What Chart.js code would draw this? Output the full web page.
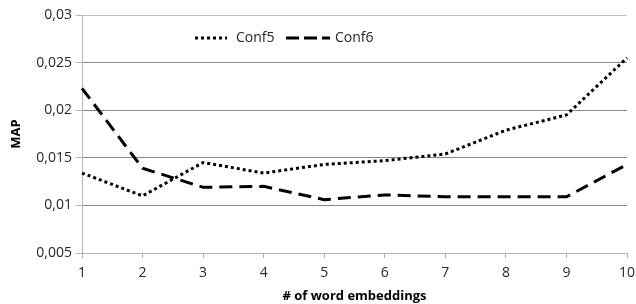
<!DOCTYPE html>
<html>
<head>
<meta charset="utf-8">
<script src="https://cdn.jsdelivr.net/npm/chart.js@4/dist/chart.umd.min.js"></script>
<style>
  html, body { margin: 0; padding: 0; background: #fff; }
  #wrap { width: 636px; height: 304px; }
</style>
</head>
<body>
<div id="wrap"><canvas id="chart" width="636" height="304"></canvas></div>
<script>
// Data
const categories = ['1', '2', '3', '4', '5', '6', '7', '8', '9', '10'];
const conf5 = [0.0134, 0.0110, 0.0145, 0.0134, 0.0143, 0.0147, 0.0154, 0.0179, 0.0195, 0.0255];
const conf6 = [0.0223, 0.0139, 0.0119, 0.0120, 0.0106, 0.0111, 0.0109, 0.0109, 0.0109, 0.0143];
const seriesNames = ['Conf5', 'Conf6'];
const yTickValues = [0.005, 0.01, 0.015, 0.02, 0.025, 0.03];

const FONT = "'Open Sans', 'DejaVu Sans', sans-serif";
const textColor = '#262626';

// Legend drawn inside the plot area, like the original
const innerLegend = {
    id: 'innerLegend',
    afterDraw(chart) {
        const ctx = chart.ctx;
        const y = chart.chartArea.top + 23;
        const items = [
            { x: 195, w: 32, dash: [3, 3], text: seriesNames[0], tx: 236 },
            { x: 286, w: 44, dash: [13, 5], text: seriesNames[1], tx: 335 }
        ];
        ctx.save();
        items.forEach(it => {
            ctx.beginPath();
            ctx.setLineDash(it.dash);
            ctx.lineWidth = 3;
            ctx.strokeStyle = '#000';
            ctx.moveTo(it.x, y);
            ctx.lineTo(it.x + it.w, y);
            ctx.stroke();
            ctx.setLineDash([]);
            ctx.fillStyle = textColor;
            ctx.font = '14px ' + FONT;
            ctx.textBaseline = 'middle';
            ctx.fillText(it.text, it.tx, y);
        });
        ctx.restore();
    }
};

new Chart(document.getElementById('chart'), {
    type: 'line',
    data: {
        labels: categories,
        datasets: [
            {
                label: seriesNames[0],
                data: conf5,
                borderColor: '#000',
                borderWidth: 3,
                borderDash: [3, 3],
                pointRadius: 0,
                tension: 0,
                fill: false
            },
            {
                label: seriesNames[1],
                data: conf6,
                borderColor: '#000',
                borderWidth: 3,
                borderDash: [13, 7],
                pointRadius: 0,
                tension: 0,
                fill: false
            }
        ]
    },
    options: {
        responsive: false,
        animation: false,
        layout: { padding: { top: 15, right: 9, left: 8, bottom: 0 } },
        plugins: {
            legend: { display: false },
            tooltip: { enabled: false }
        },
        scales: {
            x: {
                offset: false,
                grid: {
                    display: true,
                    drawOnChartArea: false,
                    drawTicks: true,
                    tickLength: 5,
                    color: '#b3b3b3'
                },
                border: { color: '#b3b3b3', width: 1 },
                ticks: {
                    color: textColor,
                    font: { family: FONT, size: 14 },
                    padding: 7,
                    maxRotation: 0
                },
                title: {
                    display: true,
                    text: '# of word embeddings',
                    color: '#000',
                    font: { family: FONT, size: 13, weight: 'bold' },
                    padding: { top: 2, bottom: 0 }
                },
                afterFit(scale) {
                    scale.height = 51;
                    scale.paddingLeft = 0;
                    scale.paddingRight = 0;
                }
            },
            y: {
                min: 0.005,
                max: 0.03,
                afterBuildTicks(scale) {
                    scale.ticks = yTickValues.map(v => ({ value: v }));
                },
                grid: {
                    color: ctx => (ctx.tick && (ctx.tick.value === 0.03 || ctx.tick.value === 0.005)) ? '#c0c0c0' : '#868686',
                    tickColor: '#b3b3b3',
                    tickLength: 6,
                    lineWidth: 1
                },
                border: { color: '#b3b3b3', width: 1 },
                ticks: {
                    color: textColor,
                    font: { family: FONT, size: 14 },
                    padding: 4,
                    callback: v => String(+v.toFixed(3)).replace('.', ',')
                },
                title: {
                    display: true,
                    text: 'MAP',
                    color: '#000',
                    font: { family: FONT, size: 13, weight: 'bold' },
                    padding: { top: 0, bottom: 4 }
                },
                afterFit(scale) {
                    scale.width = 74;
                    scale.paddingTop = 0;
                    scale.paddingBottom = 0;
                }
            }
        }
    },
    plugins: [innerLegend]
});
</script>
</body>
</html>
